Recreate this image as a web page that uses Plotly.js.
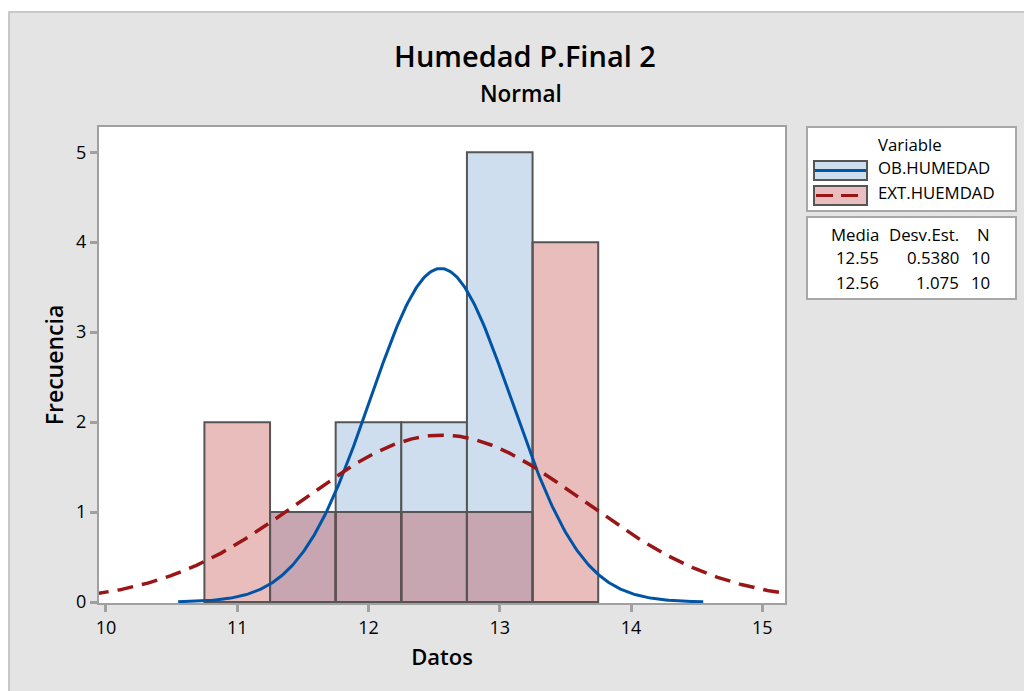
<!DOCTYPE html>
<html>
<head>
<meta charset="utf-8">
<script src="https://cdn.plot.ly/plotly-3.0.1.min.js"></script>
<style>
  html, body { margin:0; padding:0; background:#ffffff; width:1024px; height:691px; overflow:hidden; }
  #wrap { position:absolute; left:8px; top:11px; width:1014px; height:678px;
          border-top:2px solid #c8c8c8; border-left:2px solid #c8c8c8; background:#e4e4e4; }
  #chart { width:1014px; height:678px; }
</style>
</head>
<body>
<div id="wrap"><div id="chart"></div></div>
<script>
// ---- data ----
var binCenters = [11, 11.5, 12, 12.5, 13, 13.5];
var obHumedad  = [0, 1, 2, 2, 5, 0];
var extHumedad = [2, 1, 1, 1, 1, 4];
var seriesNames = ['OB.HUMEDAD', 'EXT.HUEMDAD'];
var means = [12.55, 12.56];
var sds   = [0.5380, 1.075];
var ns    = [10, 10];
var sdLabels = ['0.5380', '1.075'];
var xTicks = [10, 11, 12, 13, 14, 15];
var yTicks = [0, 1, 2, 3, 4, 5];
var binWidth = 0.5;

// fitted normal curves (scaled to frequency) from the reported mean / sd / N
function normalCurve(mu, sd, n, x0, x1) {
  var xs = [], ys = [];
  for (var x = x0; x <= x1 + 1e-9; x += 0.01) {
    xs.push(x);
    ys.push(n * binWidth * Math.exp(-0.5 * Math.pow((x - mu) / sd, 2)) / (sd * Math.sqrt(2 * Math.PI)));
  }
  return {x: xs, y: ys};
}
var c1 = normalCurve(means[0], sds[0], ns[0], 10.55, 14.55);
var c2 = normalCurve(means[1], sds[1], ns[1], 9.9, 15.25);

var edge = '#555555';
var traces = [
  {type:'bar', x: binCenters, y: obHumedad, width: binWidth, name: seriesNames[0],
   marker:{color:'#cfdeee', line:{color:edge, width:2}}, hoverinfo:'x+y'},
  {type:'bar', x: binCenters, y: extHumedad, width: binWidth, name: seriesNames[1],
   marker:{color:'rgba(185,38,38,0.3)', line:{color:edge, width:2}}, hoverinfo:'x+y'},
  {type:'scatter', mode:'lines', x: c1.x, y: c1.y, name: seriesNames[0],
   line:{color:'#0054a6', width:3}},
  {type:'scatter', mode:'lines', x: c2.x, y: c2.y, name: seriesNames[1],
   line:{color:'#9a1515', width:3.5, dash:'16px,9px'}}
];

// plot area in pixels inside the chart div
var L = 89, T = 114, W = 686, H = 476;
function px(x) { return (x - L) / W; }
function py(y) { return (T + H - y) / H; }

var FONT = 'Open Sans, Noto Sans, Arial, sans-serif';
var shapes = [
  // legend box
  {type:'rect', xref:'paper', yref:'paper', x0:px(797), x1:px(1006), y0:py(198), y1:py(114),
   fillcolor:'#ffffff', line:{color:'#a8a8a8', width:2}},
  // stats box
  {type:'rect', xref:'paper', yref:'paper', x0:px(797), x1:px(1006), y0:py(286), y1:py(204),
   fillcolor:'#ffffff', line:{color:'#a8a8a8', width:2}},
  // swatch 1
  {type:'rect', xref:'paper', yref:'paper', x0:px(804), x1:px(857), y0:py(167), y1:py(148),
   fillcolor:'#cfdeee', line:{color:edge, width:2}},
  {type:'line', xref:'paper', yref:'paper', x0:px(805), x1:px(856), y0:py(157.5), y1:py(157.5),
   line:{color:'#0054a6', width:3}},
  // swatch 2
  {type:'rect', xref:'paper', yref:'paper', x0:px(804), x1:px(857), y0:py(192), y1:py(173),
   fillcolor:'rgb(234,190,190)', line:{color:edge, width:2}},
  {type:'line', xref:'paper', yref:'paper', x0:px(806), x1:px(854), y0:py(182.5), y1:py(182.5),
   line:{color:'#9a1515', width:3, dash:'17px,8px'}}
];

var lf = {family: FONT, size: 16.8, color:'#000000'};
var annotations = [
  {xref:'paper', yref:'paper', x: px(511), y: py(-13+93), xanchor:'center', yanchor:'middle',
   showarrow:false, text:'Normal', font:{family:FONT, size:22.5, weight:600, color:'#000'}},
  {xref:'paper', yref:'paper', x: px(866), y: py(131), xanchor:'left', yanchor:'middle',
   showarrow:false, text:'Variable', font:lf},
  {xref:'paper', yref:'paper', x: px(866), y: py(154), xanchor:'left', yanchor:'middle',
   showarrow:false, text: seriesNames[0], font:lf},
  {xref:'paper', yref:'paper', x: px(866), y: py(179), xanchor:'left', yanchor:'middle',
   showarrow:false, text: seriesNames[1], font:lf},
  {xref:'paper', yref:'paper', x: px(871), y: py(221), xanchor:'right', yanchor:'middle',
   showarrow:false, text:'Media', font:lf},
  {xref:'paper', yref:'paper', x: px(951), y: py(221), xanchor:'right', yanchor:'middle',
   showarrow:false, text:'Desv.Est.', font:lf},
  {xref:'paper', yref:'paper', x: px(982), y: py(221), xanchor:'right', yanchor:'middle',
   showarrow:false, text:'N', font:lf}
];
var rowY = [244, 269];
for (var i = 0; i < means.length; i++) {
  annotations.push({xref:'paper', yref:'paper', x: px(871), y: py(rowY[i]), xanchor:'right', yanchor:'middle',
    showarrow:false, text: means[i].toFixed(2), font:lf});
  annotations.push({xref:'paper', yref:'paper', x: px(951), y: py(rowY[i]), xanchor:'right', yanchor:'middle',
    showarrow:false, text: sdLabels[i], font:lf});
  annotations.push({xref:'paper', yref:'paper', x: px(982), y: py(rowY[i]), xanchor:'right', yanchor:'middle',
    showarrow:false, text: String(ns[i]), font:lf});
}

var layout = {
  width: 1014, height: 678,
  margin: {l: L, r: 1014 - L - W, t: T, b: 678 - T - H, pad: 0},
  paper_bgcolor: '#e4e4e4',
  plot_bgcolor: '#ffffff',
  barmode: 'overlay',
  bargap: 0,
  showlegend: false,
  font: {family: FONT, color:'#000000'},
  title: {text: 'Humedad P.Final 2', x: 515/1014, xanchor:'center', y: 1 - 44/678, yanchor:'middle',
          xref:'container', yref:'container',
          font: {family: FONT, size: 29, weight: 600, color:'#000000'}},
  xaxis: {
    range: [9.947, 15.173], tickmode:'array', tickvals: xTicks, ticktext: xTicks.map(String),
    ticks:'outside', ticklen: 7, tickwidth: 3, tickcolor:'#a0a0a0',
    showline: true, linecolor:'#a0a0a0', linewidth: 2, mirror: true,
    showgrid: false, zeroline: false,
    tickfont: {family: FONT, size: 18, color:'#000'},
    title: {text:'Datos', standoff: 12, font:{family: FONT, size: 22, weight:600, color:'#000'}}
  },
  yaxis: {
    range: [-0.01, 5.28], tickmode:'array', tickvals: yTicks, ticktext: yTicks.map(String),
    ticks:'outside', ticklen: 7, tickwidth: 3, tickcolor:'#a0a0a0',
    showline: true, linecolor:'#a0a0a0', linewidth: 2, mirror: true,
    showgrid: false, zeroline: false,
    tickfont: {family: FONT, size: 18, color:'#000'},
    title: {text:'Frecuencia', standoff: 6, font:{family: FONT, size: 23, weight:600, color:'#000'}}
  },
  shapes: shapes,
  annotations: annotations
};

Plotly.newPlot('chart', traces, layout, {displayModeBar: false, staticPlot: true});
</script>
</body>
</html>
